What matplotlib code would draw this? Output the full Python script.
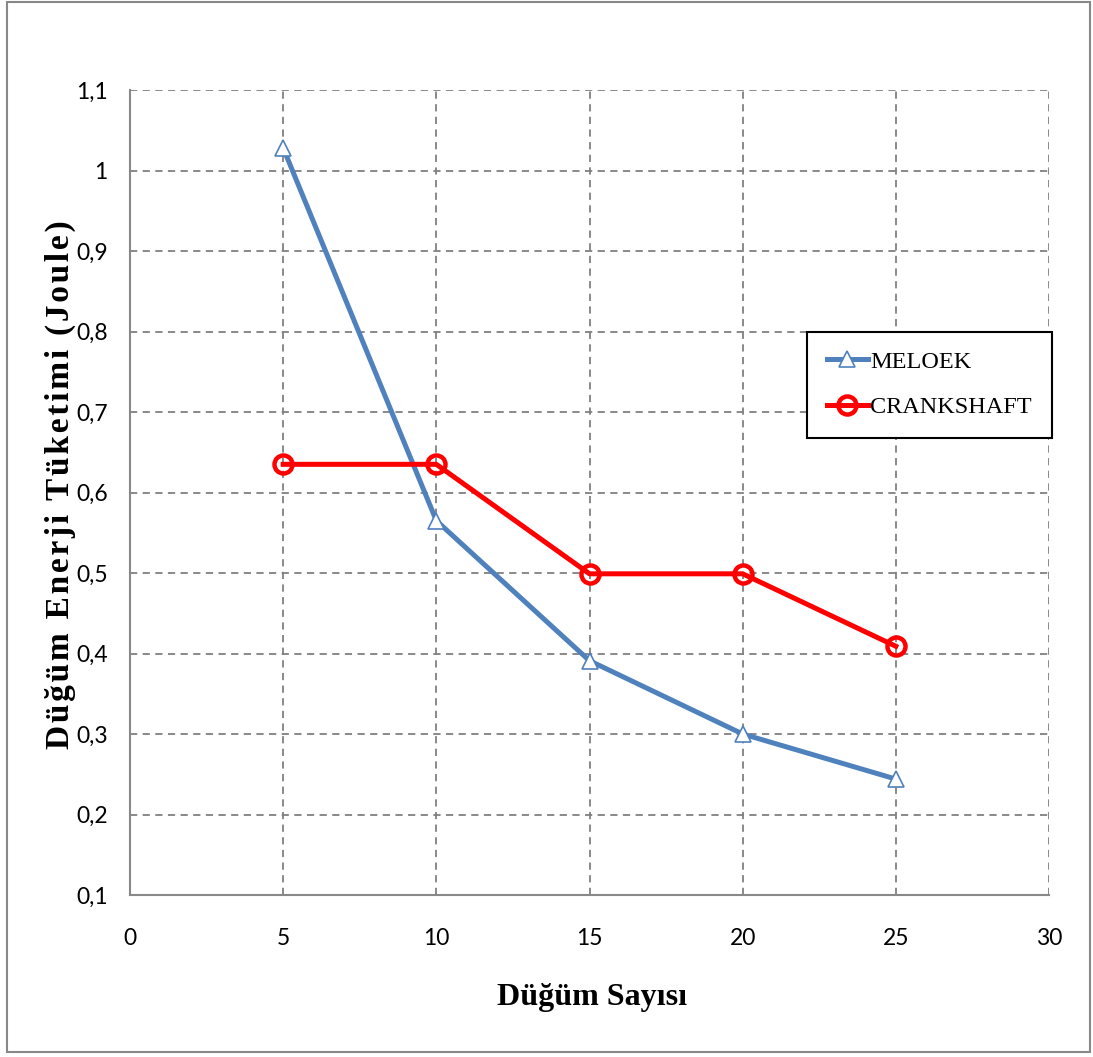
import matplotlib
matplotlib.use("Agg")
import matplotlib.pyplot as plt
from matplotlib.patches import Rectangle

nodes = [5, 10, 15, 20, 25]
meloek = [1.028, 0.565, 0.391, 0.300, 0.244]
crankshaft = [0.635, 0.635, 0.499, 0.499, 0.409]

x_ticks = [0, 5, 10, 15, 20, 25, 30]
x_tick_labels = ["0", "5", "10", "15", "20", "25", "30"]
y_ticks = [0.1, 0.2, 0.3, 0.4, 0.5, 0.6, 0.7, 0.8, 0.9, 1.0, 1.1]
y_tick_labels = ["0,1", "0,2", "0,3", "0,4", "0,5", "0,6", "0,7", "0,8", "0,9", "1", "1,1"]

W, H = 1093, 1057
fig = plt.figure(figsize=(W / 100, H / 100), dpi=100)
ax = fig.add_axes([130 / W, 1 - 895 / H, (1049 - 130) / W, (895 - 90) / H])

# outer frame
fig.patches.append(Rectangle((7 / W, 1 - 1052 / H), (1090 - 7) / W, (1052 - 2) / H,
                             transform=fig.transFigure, fill=False,
                             edgecolor="#888888", linewidth=1.5))

ax.plot(nodes, meloek, color="#4F81BD", linewidth=3.6, marker="^", markersize=11,
        markerfacecolor="white", markeredgecolor="#4F81BD", markeredgewidth=1.2,
        label="MELOEK", zorder=3)
ax.plot(nodes, crankshaft, color="#FF0000", linewidth=3.6, marker="o", markersize=13,
        markerfacecolor="none", markeredgecolor="#FF0000", markeredgewidth=3.2,
        label="CRANKSHAFT", zorder=4)

ax.set_xlim(0, 30)
ax.set_ylim(0.1, 1.1)
ax.set_xticks(x_ticks)
ax.set_xticklabels(x_tick_labels)
ax.set_yticks(y_ticks)
ax.set_yticklabels(y_tick_labels)
ax.tick_params(length=0, labelsize=16.5)
ax.tick_params(axis="x", pad=24)
ax.tick_params(axis="y", pad=16)
for lab in ax.get_xticklabels() + ax.get_yticklabels():
    lab.set_fontfamily("Lato")

ax.grid(True, color="#808080", linestyle=(0, (4, 3)), linewidth=1.3)
ax.set_axisbelow(True)
for s in ["top", "right"]:
    ax.spines[s].set_visible(False)
for s in ["left", "bottom"]:
    ax.spines[s].set_color("#888888")
    ax.spines[s].set_linewidth(1.5)

fig.text(592 / W, 1 - 997 / H, "Düğüm Sayısı", fontfamily="Liberation Serif",
         fontweight="bold", fontsize=23, ha="center", va="center")
ylab = "Düğüm Enerji Tüketimi (Joule)"
fig.text(60 / W, 1 - 485 / H, "\u200a".join(ylab),
         fontfamily=["Liberation Serif", "DejaVu Serif"], fontweight="bold",
         fontsize=24, rotation=90, ha="center", va="center")

leg = ax.legend(loc="upper left", bbox_to_anchor=(0.737, 0.70), frameon=True,
                fancybox=False, edgecolor="black", framealpha=1,
                prop={"family": "Liberation Serif", "size": 17.5},
                handlelength=1.7, handletextpad=0.1, labelspacing=0.95,
                borderpad=0.8, borderaxespad=0)
leg.get_frame().set_linewidth(1.5)

fig.savefig("out.png", dpi=100)
